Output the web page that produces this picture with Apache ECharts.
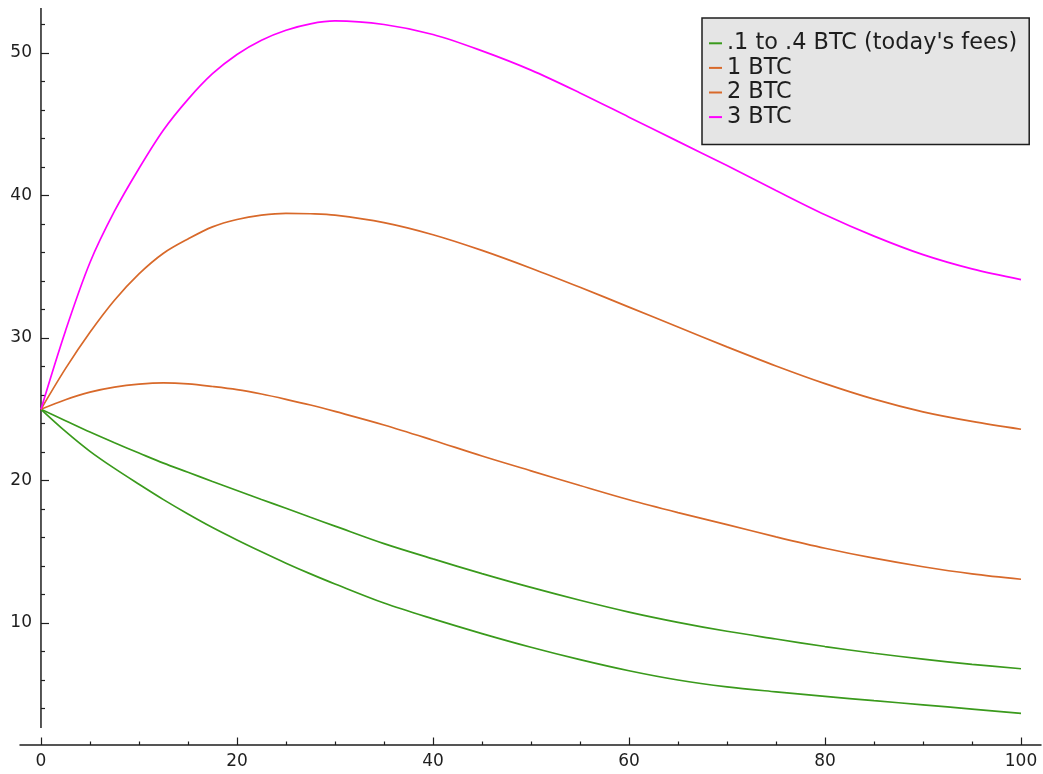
<!DOCTYPE html>
<html>
<head>
<meta charset="utf-8">
<script src="https://cdn.jsdelivr.net/npm/echarts@6/dist/echarts.min.js"></script>
<style>
  html, body { margin: 0; padding: 0; background: #ffffff; }
  #chart { width: 1043px; height: 774px; }
</style>
</head>
<body>
<div id="chart"></div>
<script>
// Sample positions along the horizontal axis
const xValues = [0, 2.5, 5, 7.5, 10, 12.5, 15, 17.5, 20, 22.5, 25, 27.5, 30, 35, 40, 45, 50, 55, 60, 65, 70, 75, 80, 85, 90, 95, 100];

// Curves for each fee level
const feesTodayHigh = [25, 24.2, 23.4, 22.65, 21.93, 21.22, 20.58, 19.93, 19.3, 18.67, 18.05, 17.42, 16.8, 15.57, 14.5, 13.47, 12.5, 11.6, 10.77, 10.05, 9.42, 8.88, 8.35, 7.88, 7.47, 7.1, 6.79];
const feesTodayLow  = [25, 23.45, 22.05, 20.85, 19.74, 18.66, 17.65, 16.7, 15.83, 15.0, 14.2, 13.45, 12.74, 11.4, 10.29, 9.26, 8.3, 7.43, 6.65, 6.0, 5.52, 5.17, 4.85, 4.55, 4.26, 3.96, 3.66];
const oneBtc   = [25, 25.67, 26.2, 26.55, 26.76, 26.85, 26.78, 26.6, 26.38, 26.07, 25.7, 25.3, 24.85, 23.9, 22.83, 21.72, 20.68, 19.65, 18.65, 17.75, 16.9, 16.05, 15.25, 14.55, 13.95, 13.45, 13.07];
const twoBtc   = [25, 27.85, 30.4, 32.65, 34.5, 35.95, 36.95, 37.8, 38.32, 38.62, 38.75, 38.72, 38.62, 38.1, 37.25, 36.15, 34.9, 33.56, 32.17, 30.77, 29.38, 28.04, 26.8, 25.71, 24.82, 24.15, 23.6];
const threeBtc = [25, 30.5, 35.3, 38.9, 41.9, 44.6, 46.75, 48.55, 49.9, 50.9, 51.6, 52.05, 52.25, 52.0, 51.3, 50.15, 48.8, 47.2, 45.5, 43.8, 42.1, 40.35, 38.65, 37.15, 35.85, 34.85, 34.1];

// Legend labels
const labelToday = ".1 to .4 BTC (today's fees)";
const labelOne = "1 BTC";
const labelTwo = "2 BTC";
const labelThree = "3 BTC";

// Tick positions
const xMajorTicks = [0, 20, 40, 60, 80, 100];
const xMinorTicks = [5, 10, 15, 25, 30, 35, 45, 50, 55, 65, 70, 75, 85, 90, 95];
const yMajorTicks = [10, 20, 30, 40, 50];
const yMinorTicks = [4, 6, 8, 12, 14, 16, 18, 22, 24, 26, 28, 32, 34, 36, 38, 42, 44, 46, 48, 52];

// Axis extents
const X_MIN = -2.14, X_MAX = 102.04;
const Y_MIN = 1.44, Y_MAX = 53.16;
const Y_AXIS_START = 2.63;

// Plot area in pixels; the vertical axis sits where x = 0
const GRID_LEFT = 20, GRID_RIGHT = 2, GRID_TOP = 8, GRID_BOTTOM = 29;
const plotWidth = 1043 - GRID_LEFT - GRID_RIGHT;
const yAxisShift = -plotWidth * (0 - X_MIN) / (X_MAX - X_MIN);

const FONT = 'DejaVu Sans';
const GREEN = '#3a9a1c';
const ORANGE = '#d8692a';
const MAGENTA = '#ff00ff';
const INK = '#1e1e1e';

const pairs = ys => xValues.map((x, i) => [x, ys[i]]);

function curve(name, ys, color) {
  return {
    name: name,
    type: 'line',
    data: pairs(ys),
    smooth: 0.33,
    smoothConstraint: false,
    showSymbol: false,
    symbol: 'none',
    lineStyle: { color: color, width: 1.7 },
    itemStyle: { color: color },
    z: 3
  };
}

function xAxisBase(ticks, len, withLabels) {
  return {
    type: 'value', min: X_MIN, max: X_MAX, position: 'bottom',
    axisLine: { show: withLabels, onZero: false, lineStyle: { color: INK, width: 1.5 } },
    axisTick: { show: true, inside: true, length: len, customValues: ticks, lineStyle: { color: INK, width: 1.2 } },
    axisLabel: { show: withLabels, customValues: ticks, margin: 8, fontFamily: FONT, fontSize: 17, color: INK },
    splitLine: { show: false }
  };
}

function yAxisBase(ticks, len, withLabels) {
  return {
    type: 'value', min: Y_MIN, max: Y_MAX, position: 'left', offset: yAxisShift,
    axisLine: { show: false, onZero: false },
    axisTick: { show: true, inside: true, length: len, customValues: ticks, lineStyle: { color: INK, width: 1.2 } },
    axisLabel: { show: withLabels, customValues: ticks, margin: 9, fontFamily: FONT, fontSize: 17, color: INK },
    splitLine: { show: false }
  };
}

const chart = echarts.init(document.getElementById('chart'), null, { renderer: 'canvas' });

chart.setOption({
  animation: false,
  backgroundColor: '#ffffff',
  grid: { left: GRID_LEFT, right: GRID_RIGHT, top: GRID_TOP, bottom: GRID_BOTTOM, containLabel: false, outerBoundsMode: 'none' },
  xAxis: [
    xAxisBase(xMajorTicks, 7.5, true),
    xAxisBase(xMinorTicks, 3.5, false)
  ],
  yAxis: [
    yAxisBase(yMajorTicks, 8, true),
    yAxisBase(yMinorTicks, 4, false)
  ],
  legend: {
    data: [labelToday, labelOne, labelTwo, labelThree],
    orient: 'vertical',
    left: 702,
    top: 18,
    icon: 'rect',
    itemWidth: 13,
    itemHeight: 2,
    itemGap: 0,
    padding: [13, 12, 15, 7],
    backgroundColor: '#e5e5e5',
    borderColor: INK,
    borderWidth: 1.5,
    borderRadius: 0,
    textStyle: { fontFamily: FONT, fontSize: 22.4, color: INK, lineHeight: 24.6 },
    selectedMode: false
  },
  series: [
    {
      name: 'y-axis',
      type: 'line',
      data: [[0, Y_AXIS_START], [0, Y_MAX]],
      showSymbol: false,
      symbol: 'none',
      silent: true,
      clip: false,
      lineStyle: { color: INK, width: 1.5 },
      z: 1
    },
    curve(labelToday, feesTodayHigh, GREEN),
    curve(labelToday, feesTodayLow, GREEN),
    curve(labelOne, oneBtc, ORANGE),
    curve(labelTwo, twoBtc, ORANGE),
    curve(labelThree, threeBtc, MAGENTA)
  ]
});
</script>
</body>
</html>
